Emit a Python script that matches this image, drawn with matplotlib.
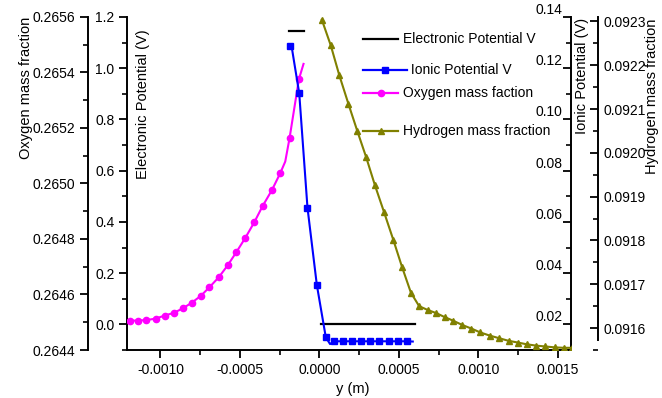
import numpy as np
import matplotlib
matplotlib.use("Agg")
import matplotlib.pyplot as plt
from matplotlib.lines import Line2D
from matplotlib.ticker import MultipleLocator, FormatStrFormatter

plt.rcParams['font.family'] = ['Liberation Sans', 'DejaVu Sans']
plt.rcParams['axes.unicode_minus'] = False

# ---- data ----
# oxygen mass fraction (magenta, circles)
ox_x = [-0.00121, -0.001193, -0.001141, -0.001088, -0.001030, -0.000974, -0.000915,
        -0.000859, -0.000804, -0.000746, -0.000692, -0.000633, -0.000577, -0.000522,
        -0.000466, -0.000409, -0.000357, -0.000298, -0.000245, -0.000215, -0.000188,
        -0.000129, -0.000100]
ox_y = [0.264505, 0.264506, 0.264506, 0.264508, 0.264513, 0.264524, 0.264534,
        0.264550, 0.264570, 0.264595, 0.264626, 0.264662, 0.264705, 0.264753,
        0.264804, 0.264861, 0.264919, 0.264977, 0.265039, 0.265079, 0.265163,
        0.265376, 0.265431]
ox_marked = [i for i in range(len(ox_x)) if i not in (0, 19, 22)]

# ionic potential (blue, squares)
ion_x = [-0.000188, -0.000173, -0.000159, -0.000127, -0.0000752, -0.0000163, 0.00004,
         0.000067, 0.00009, 0.000147, 0.000205, 0.000262, 0.00032, 0.000377,
         0.000435, 0.000492, 0.00055, 0.000587]
ion_y = [0.1288, 0.1278, 0.1224, 0.1102, 0.0656, 0.0354, 0.0150,
         0.0123, 0.0134, 0.0134, 0.0134, 0.0134, 0.0134, 0.0134,
         0.0134, 0.0134, 0.0134, 0.0133]
ion_marked = [i for i in range(len(ion_x)) if i not in (1, 2, 7, 17)]

# electronic potential (black line, two pieces)
el_x = [-0.00019, -0.0001, np.nan, 0.00001, 0.0006]
el_y = [1.145, 1.145, np.nan, 0.0, 0.0]

# hydrogen mass fraction (olive, triangles)
h_x = [0.000015, 0.0000715, 0.000125, 0.000182, 0.000238, 0.000293, 0.000349,
       0.000406, 0.000464, 0.000519, 0.000575, 0.000627, 0.000683, 0.000736,
       0.000788, 0.000840, 0.000899, 0.000955, 0.001012, 0.001070, 0.001129,
       0.001189, 0.001248, 0.001304, 0.001363, 0.001421, 0.001480, 0.001536,
       0.001589]
h_y = [0.092304, 0.092245, 0.092177, 0.092112, 0.092050, 0.091991, 0.091926,
       0.091865, 0.091802, 0.091740, 0.091681, 0.091650, 0.091641, 0.091634,
       0.091625, 0.091617, 0.091607, 0.091599, 0.091590, 0.091583, 0.091577,
       0.091571, 0.091567, 0.091563, 0.091560, 0.091558, 0.091556, 0.091555,
       0.091555]

x_ticks = [-0.0010, -0.0005, 0.0000, 0.0005, 0.0010, 0.0015]

W, H = 662, 398


def fx(px):
    return px / W


def fy(py):
    return 1 - py / H


fig = plt.figure(figsize=(W / 100, H / 100), dpi=100)
ax = fig.add_axes([fx(127), fy(350), fx(570.7) - fx(127), fy(17) - fy(350)])
ax_o = ax.twinx()
ax_i = ax.twinx()
ax_h = ax.twinx()

# electronic potential on the main axes
ax.plot(el_x, el_y, color='black', lw=1.6)
ax_o.plot(ox_x, ox_y, color='#ff00ff', lw=1.5, marker='o', ms=4.5, markevery=ox_marked)
ax_i.plot(ion_x, ion_y, color='#0000ff', lw=1.5, marker='s', ms=4, markevery=ion_marked)
ax_h.plot(h_x, h_y, color='#808000', lw=1.5, marker='^', ms=5)

ax.set_xlim(-0.00121, 0.00158)
ax.set_ylim(-0.1, 1.2)
ax_o.set_ylim(0.2644, 0.2656)
ax_i.set_ylim(0.01, 0.14)
ax_h.set_ylim(0.09155, 0.09231)

# spines
for a in (ax, ax_o, ax_i, ax_h):
    for s in a.spines.values():
        s.set_visible(False)
        s.set_linewidth(1.4)
ax.spines['left'].set_visible(True)
ax.spines['bottom'].set_visible(True)

ax_o.yaxis.tick_left()
ax_o.spines['left'].set_visible(True)
ax_o.spines['left'].set_position(('axes', (88 - 127) / 443.7))

ax_i.spines['right'].set_visible(True)

ax_h.spines['right'].set_visible(True)
ax_h.spines['right'].set_position(('axes', (598 - 127) / 443.7))
ax_h.spines['right'].set_bounds(0.091573, 0.09231)

# ticks
ax.set_xticks(x_ticks)
ax.xaxis.set_major_formatter(FormatStrFormatter('%.4f'))
ax.xaxis.set_minor_locator(MultipleLocator(0.00025))
ax.yaxis.set_major_locator(MultipleLocator(0.2))
ax.yaxis.set_minor_locator(MultipleLocator(0.1))
ax.yaxis.set_major_formatter(FormatStrFormatter('%.1f'))
ax.tick_params(which='major', direction='out', length=6, width=1.3, labelsize=10, pad=3)
ax.tick_params(which='minor', direction='out', length=3.5, width=1.2)

ax_o.yaxis.set_major_locator(MultipleLocator(0.0002))
ax_o.yaxis.set_minor_locator(MultipleLocator(0.0001))
ax_o.yaxis.set_major_formatter(FormatStrFormatter('%.4f'))
ax_o.tick_params(axis='y', which='major', direction='out', length=6, width=1.3, labelsize=10, pad=3)
ax_o.tick_params(axis='y', which='minor', direction='out', length=3.5, width=1.2)

ax_i.yaxis.set_major_locator(MultipleLocator(0.02))
ax_i.yaxis.set_minor_locator(MultipleLocator(0.01))
ax_i.yaxis.set_major_formatter(FormatStrFormatter('%.2f'))
ax_i.tick_params(axis='y', which='major', direction='in', length=6, width=1.3, labelsize=10, pad=-6)
ax_i.tick_params(axis='y', which='minor', direction='in', length=3.5, width=1.2)
for lbl in ax_i.get_yticklabels():
    lbl.set_ha('right')
    lbl.set_va('bottom')

ax_h.yaxis.set_major_locator(MultipleLocator(0.0001))
ax_h.yaxis.set_minor_locator(MultipleLocator(0.00005))
ax_h.yaxis.set_major_formatter(FormatStrFormatter('%.4f'))
ax_h.tick_params(axis='y', which='major', direction='in', length=6, width=1.3, labelsize=10, pad=4)
ax_h.tick_params(axis='y', which='minor', direction='in', length=3.5, width=1.2)

# axis titles
fig.text(fx(26), fy(88), "Oxygen mass fraction", rotation=90, ha='center', va='center', fontsize=10.5)
fig.text(fx(143), fy(104), "Electronic Potential (V)", rotation=90, ha='center', va='center', fontsize=10.5)
fig.text(fx(582), fy(76), "Ionic Potential (V)", rotation=90, ha='center', va='center', fontsize=10.5)
fig.text(fx(652), fy(96), "Hydrogen mass fraction", rotation=90, ha='center', va='center', fontsize=10.5)
fig.text(fx(353), fy(389), "y (m)", ha='center', va='center', fontsize=10.5)

# legend drawn by hand (uneven row spacing like the original)
leg = [
    ("Electronic Potential V", 'black', None, 4, 39, 398.3, 403.3),
    (" Ionic Potential V", '#0000ff', 's', 4, 70, 406.7, 406.7),
    ("Oxygen mass faction", '#ff00ff', 'o', 4.5, 93, 398.3, 403.3),
    ("Hydrogen mass fraction", '#808000', '^', 5, 131, 398.3, 403.3),
]
for label, col, mk, ms, py, x_end, x_txt in leg:
    x0 = 362.7
    fig.add_artist(Line2D([fx(x0), fx((x0 + x_end) / 2), fx(x_end)], [fy(py)] * 3,
                          transform=fig.transFigure, color=col, lw=1.6,
                          marker=mk, ms=ms, markevery=[1]))
    fig.text(fx(x_txt), fy(py), label, ha='left', va='center', fontsize=10)

fig.savefig("out.png", dpi=100)
